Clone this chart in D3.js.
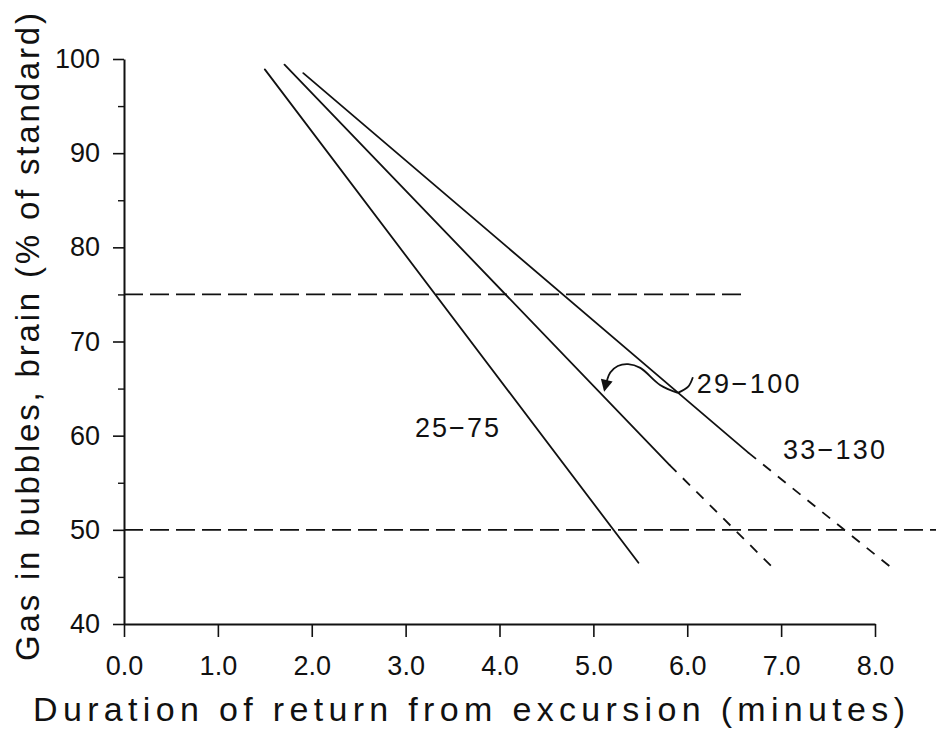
<!DOCTYPE html>
<html>
<head>
<meta charset="utf-8">
<script src="https://cdn.jsdelivr.net/npm/d3@7"></script>
<style>
  html, body { margin: 0; padding: 0; background: #fff; }
  svg { display: block; }
  text { font-family: "Liberation Sans", Arial, Helvetica, sans-serif; fill: #111; }
</style>
</head>
<body>
<svg id="chart" width="936" height="751"></svg>
<script>
// ---- data ----
const xTickValues = [0, 1, 2, 3, 4, 5, 6, 7, 8];
const xTickLabels = ["0.0", "1.0", "2.0", "3.0", "4.0", "5.0", "6.0", "7.0", "8.0"];
const yTickValues = [40, 50, 60, 70, 80, 90, 100];
const yMinorTicks = [45, 55, 65, 75, 85, 95];

const lineNames   = ["25\u221275", "29\u2212100", "33\u2212130"];
const solidStartX = [1.50, 1.71, 1.91];
const solidStartY = [98.9, 99.4, 98.5];
const solidEndX   = [5.48, 5.81, 6.65];
const solidEndY   = [46.5, 56.9, 58.2];
const dashEndX    = [null, 6.93, 8.16];
const dashEndY    = [null, 45.8, 46.1];

const refLevels = [75, 50];
const refEndX   = [6.61, 8.65];

// annotation anchors (data units)
const labelX = [3.10, 6.10, 7.02];
const labelY = [59.9, 64.5, 57.5];
const arrowPathX = [5.90, 5.71, 5.50, 5.37, 5.26, 5.18, 5.12];
const arrowPathY = [64.54, 65.39, 67.2, 67.6, 67.4, 66.7, 64.9];
const leaderX = [5.90, 6.01, 6.06];
const leaderY = [64.54, 65.2, 66.2];

const xTitle = "Duration of return from excursion (minutes)";
const yTitle = "Gas in bubbles, brain (% of standard)";

// ---- drawing ----
const svg = d3.select("#chart");
const x = d3.scaleLinear().domain([0, 8]).range([124, 875]);
const y = d3.scaleLinear().domain([40, 100]).range([624, 59]);

svg.append("defs").append("marker")
  .attr("id", "arrowhead")
  .attr("viewBox", "0 0 10 10")
  .attr("refX", 8).attr("refY", 5)
  .attr("markerWidth", 13).attr("markerHeight", 12)
  .attr("markerUnits", "userSpaceOnUse")
  .attr("orient", "auto")
  .append("path").attr("d", "M0,0 L10,5 L0,10 Z").attr("fill", "#111");

// axes
const xAxis = d3.axisBottom(x).tickValues(xTickValues)
  .tickFormat((d, i) => xTickLabels[i]).tickSize(13).tickSizeOuter(0);
const gx = svg.append("g").attr("transform", `translate(0,${y(40)})`).call(xAxis);
gx.select(".domain").attr("stroke", "#111").attr("stroke-width", 2);
gx.selectAll(".tick line").attr("stroke", "#111").attr("stroke-width", 1.6);
gx.selectAll(".tick text").attr("font-size", 27).attr("dy", null).attr("y", 51)
  .attr("font-family", "Liberation Sans, Arial, sans-serif").attr("fill", "#111");

const yAxis = d3.axisLeft(y).tickValues(yTickValues).tickSize(11).tickSizeOuter(0).tickFormat(d3.format("d"));
const gy = svg.append("g").attr("transform", `translate(${x(0)},0)`).call(yAxis);
gy.select(".domain").attr("stroke", "#111").attr("stroke-width", 2);
gy.selectAll(".tick line").attr("stroke", "#111").attr("stroke-width", 1.6);
gy.selectAll(".tick text").attr("font-size", 27).attr("x", -24)
  .attr("font-family", "Liberation Sans, Arial, sans-serif").attr("fill", "#111");

const gyMinor = svg.append("g").attr("transform", `translate(${x(0)},0)`)
  .call(d3.axisLeft(y).tickValues(yMinorTicks).tickSize(6).tickFormat(""));
gyMinor.select(".domain").remove();
gyMinor.selectAll(".tick line").attr("stroke", "#111").attr("stroke-width", 1.4);

// reference dashed lines
refLevels.forEach((lv, i) => {
  svg.append("line")
    .attr("x1", x(0)).attr("x2", x(refEndX[i]))
    .attr("y1", y(lv)).attr("y2", y(lv))
    .attr("stroke", "#111").attr("stroke-width", 1.7)
    .attr("stroke-dasharray", "19,7");
});

// series lines
lineNames.forEach((name, i) => {
  svg.append("line")
    .attr("x1", x(solidStartX[i])).attr("y1", y(solidStartY[i]))
    .attr("x2", x(solidEndX[i])).attr("y2", y(solidEndY[i]))
    .attr("stroke", "#111").attr("stroke-width", 1.8).attr("stroke-linecap", "round");
  if (dashEndX[i] !== null) {
    svg.append("line")
      .attr("x1", x(solidEndX[i])).attr("y1", y(solidEndY[i]))
      .attr("x2", x(dashEndX[i])).attr("y2", y(dashEndY[i]))
      .attr("stroke", "#111").attr("stroke-width", 1.8)
      .attr("stroke-dasharray", "10,9");
  }
});

// labels
const labelWidths = [84, 103, 102];
lineNames.forEach((name, i) => {
  svg.append("text")
    .attr("x", x(labelX[i])).attr("y", y(labelY[i]))
    .attr("font-size", 27)
    .attr("textLength", labelWidths[i]).attr("lengthAdjust", "spacing")
    .text(name);
});

// curved arrow pointing to 29-100 line
const curve = d3.line().x(d => x(d[0])).y(d => y(d[1])).curve(d3.curveCatmullRom.alpha(0.5));
svg.append("path")
  .attr("d", curve(arrowPathX.map((v, i) => [v, arrowPathY[i]])))
  .attr("fill", "none").attr("stroke", "#111").attr("stroke-width", 1.8)
  .attr("marker-end", "url(#arrowhead)");
svg.append("path")
  .attr("d", curve(leaderX.map((v, i) => [v, leaderY[i]])))
  .attr("fill", "none").attr("stroke", "#111").attr("stroke-width", 1.8);

// axis titles
svg.append("text")
  .attr("x", 469).attr("y", 721)
  .attr("text-anchor", "middle")
  .attr("font-size", 34)
  .attr("textLength", 872).attr("lengthAdjust", "spacing")
  .text(xTitle);

svg.append("text")
  .attr("transform", "translate(39,337) rotate(-90)")
  .attr("text-anchor", "middle")
  .attr("font-size", 33)
  .attr("textLength", 648).attr("lengthAdjust", "spacing")
  .text(yTitle);
</script>
</body>
</html>
